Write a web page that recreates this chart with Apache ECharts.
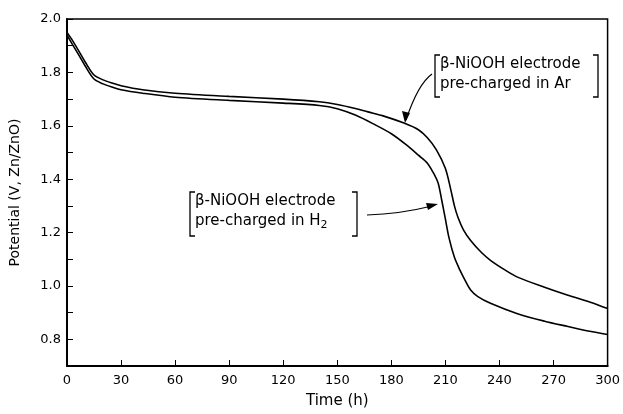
<html>
<head>
<meta charset="UTF-8">
<title>Discharge curves</title>
<script type="text/javascript" src="https://cdn.jsdelivr.net/npm/echarts@6/dist/echarts.min.js"></script>
<style>
  body { margin: 0; background: #fff; }
  #main { width: 623px; height: 414px; }
</style>
</head>
<body>
<div id="main"></div>
<script type="text/javascript">
// time (h) and potential (V)
var tAr = [0, 3, 7, 10, 15, 20, 25, 30, 42, 60, 90, 120, 140, 150, 160, 167, 175, 187, 195, 200, 205, 210, 213, 215, 217, 220, 224, 230, 235, 243, 250, 265, 278, 290, 300];
var vAr = [1.95, 1.92, 1.875, 1.84, 1.79, 1.772, 1.76, 1.75, 1.735, 1.722, 1.71, 1.70, 1.69, 1.68, 1.665, 1.652, 1.638, 1.61, 1.585, 1.555, 1.51, 1.44, 1.36, 1.30, 1.256, 1.21, 1.17, 1.125, 1.096, 1.06, 1.033, 0.995, 0.965, 0.94, 0.915];
var tH2 = [0, 3, 7, 10, 15, 20, 25, 30, 42, 60, 90, 120, 140, 150, 160, 170, 180, 188, 195, 200, 204, 206, 208, 210, 212, 215, 218, 221, 224, 228, 235, 250, 265, 278, 290, 300];
var vH2 = [1.94, 1.905, 1.86, 1.825, 1.775, 1.757, 1.745, 1.735, 1.722, 1.707, 1.695, 1.685, 1.676, 1.664, 1.64, 1.607, 1.57, 1.53, 1.49, 1.46, 1.415, 1.385, 1.32, 1.25, 1.18, 1.107, 1.06, 1.02, 0.985, 0.96, 0.935, 0.896, 0.868, 0.848, 0.83, 0.818];
var xTicks = [0, 30, 60, 90, 120, 150, 180, 210, 240, 270, 300];
var yLabels = [0.8, 1.0, 1.2, 1.4, 1.6, 1.8, 2.0];

function pairs(t, v) {
  var out = [];
  for (var i = 0; i < t.length; i++) out.push([t[i], v[i]]);
  return out;
}

var font = 'DejaVu Sans';
var myChart = echarts.init(document.getElementById('main'));

var option = {
  animation: false,
  backgroundColor: '#fff',
  grid: { left: 67, top: 19, right: 13, bottom: 45, show: true, borderColor: '#000', borderWidth: 1.5 },
  xAxis: {
    type: 'value', min: 0, max: 300, interval: 30,
    name: 'Time (h)', nameLocation: 'middle', nameGap: 28,
    nameTextStyle: { fontFamily: font, fontSize: 15, color: '#000' },
    axisLine: { lineStyle: { color: '#000', width: 2 } },
    axisTick: { inside: true, length: 6, lineStyle: { color: '#000' } },
    axisLabel: { fontFamily: font, fontSize: 13, color: '#000', margin: 8,
      formatter: function (v) { return xTicks.indexOf(v) >= 0 ? String(v) : ''; } },
    splitLine: { show: false }
  },
  yAxis: {
    type: 'value', min: 0.7, max: 2.0, interval: 0.1,
    name: 'Potential (V, Zn/ZnO)', nameLocation: 'middle', nameGap: 45,
    nameTextStyle: { fontFamily: font, fontSize: 14, color: '#000' },
    axisLine: { lineStyle: { color: '#000', width: 2 } },
    axisTick: { inside: true, length: 6, lineStyle: { color: '#000' } },
    axisLabel: { fontFamily: font, fontSize: 13, color: '#000', margin: 6,
      formatter: function (v) {
        var r = Math.round(v * 10) / 10;
        return yLabels.indexOf(r) >= 0 ? r.toFixed(1) : '';
      } },
    splitLine: { show: false }
  },
  series: [
    { name: 'Ar', type: 'line', data: pairs(tAr, vAr), smooth: 0.3, symbol: 'none',
      lineStyle: { color: '#000', width: 1.6 } },
    { name: 'H2', type: 'line', data: pairs(tH2, vH2), smooth: 0.3, symbol: 'none',
      lineStyle: { color: '#000', width: 1.6 } }
  ]
};
myChart.setOption(option);

// labels with brackets and arrows
function bracket(x, y1, y2, dir) {
  return { type: 'polyline', shape: { points: [[x + 5 * dir, y1], [x, y1], [x, y2], [x + 5 * dir, y2]] },
    style: { stroke: '#000', lineWidth: 1.3, fill: null } };
}
function label(x1, x2, yTop, yBot, line1, line2) {
  return [
    bracket(x1, yTop, yBot, 1),
    bracket(x2, yTop, yBot, -1),
    { type: 'text', left: x1 + 5, top: yTop + 2, style: { text: line1, font: '15px "DejaVu Sans"', fill: '#000' } },
    { type: 'text', left: x1 + 5, top: yTop + 22, style: { text: line2, font: '15px "DejaVu Sans"', fill: '#000' } }
  ];
}
var g = [];
g = g.concat(label(435, 598, 55, 97, 'β-NiOOH electrode', 'pre-charged in Ar'));
g = g.concat(label(190, 357, 192, 236, 'β-NiOOH electrode', ''));
g.push({ type: 'text', left: 195, top: 214, style: {
  text: '{a|pre-charged in H}{s|2}',
  rich: { a: { font: '15px "DejaVu Sans"', fill: '#000' }, s: { font: '11px "DejaVu Sans"', fill: '#000', padding: [8, 0, 0, 0] } }
} });
// Ar arrow
g.push({ type: 'bezierCurve', shape: { x1: 432, y1: 74, cpx1: 418, cpy1: 84, x2: 406, y2: 120 },
  style: { stroke: '#000', lineWidth: 1.2, fill: null } });
g.push({ type: 'polygon', shape: { points: [[405, 123], [402, 111], [410, 113]] }, style: { fill: '#000' } });
// H2 arrow
g.push({ type: 'bezierCurve', shape: { x1: 367, y1: 215, cpx1: 400, cpy1: 214, x2: 432, y2: 206 },
  style: { stroke: '#000', lineWidth: 1.2, fill: null } });
g.push({ type: 'polygon', shape: { points: [[438, 204], [426, 203], [428, 210]] }, style: { fill: '#000' } });

myChart.setOption({ graphic: g });
</script>
</body>
</html>
